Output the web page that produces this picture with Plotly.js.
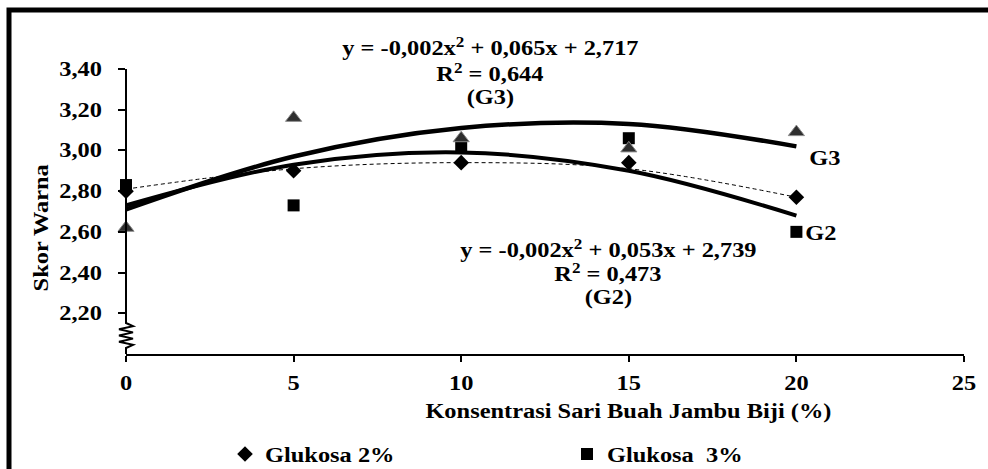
<!DOCTYPE html>
<html>
<head>
<meta charset="utf-8">
<script src="https://cdn.plot.ly/plotly-3.0.1.min.js"></script>
<style>
  html, body { margin: 0; padding: 0; background: #fff; }
  #chart { width: 988px; height: 469px; }
</style>
</head>
<body>
<div id="chart"></div>
<script>
// ---------- data ----------
const xValues   = [0, 5, 10, 15, 20];
const glukosa2  = [2.80, 2.90, 2.94, 2.94, 2.77];   // diamonds
const glukosa3  = [2.83, 2.73, 3.02, 3.06, 2.60];   // squares
const glukosa4  = [2.62, 3.16, 3.06, 3.01, 3.09];   // triangles
// trend lines at the same x positions
const trendDiamond = [2.81, 2.91, 2.94, 2.91, 2.77]; // thin dashed
const trendG2      = [2.73, 2.93, 2.99, 2.90, 2.68]; // thick, labelled G2
const trendG3      = [2.71, 2.97, 3.11, 3.13, 3.02]; // thick, labelled G3

const xTickVals = [0, 5, 10, 15, 20, 25];
const xTickText = ['0', '5', '10', '15', '20', '25'];
const yTickVals = [2.2, 2.4, 2.6, 2.8, 3.0, 3.2, 3.4];
const yTickText = ['2,20', '2,40', '2,60', '2,80', '3,00', '3,20', '3,40'];

const seriesNames = ['Glukosa 2%', 'Glukosa\u00a0 3%', 'Glukosa 4%'];
const eqG3 = ['y = -0,002x<sup>2</sup> + 0,065x + 2,717', 'R<sup>2</sup> = 0,644', '(G3)'];
const eqG2 = ['y = -0,002x<sup>2</sup> + 0,053x + 2,739', 'R<sup>2</sup> = 0,473', '(G2)'];
const xTitle = 'Konsentrasi Sari Buah Jambu Biji (%)';
const yTitle = 'Skor Warna';

// ---------- layout helpers (pixel -> paper) ----------
const W = 988, H = 469;
const M = { l: 126, r: 24, t: 69, b: 115, autoexpand: false };
const PW = W - M.l - M.r, PH = H - M.t - M.b;
const px = v => (v - M.l) / PW;
const py = v => (H - M.b - v) / PH;

const FONT = 'Liberation Serif, Times New Roman, serif';
const f = (size) => ({ family: FONT, size: size, color: '#000', weight: 700 });

const traces = [
  { x: xValues, y: trendDiamond, mode: 'lines', line: { color: '#000', width: 1, dash: '4px,3px', shape: 'spline' }, showlegend: false, hoverinfo: 'skip' },
  { x: xValues, y: trendG2, mode: 'lines', line: { color: '#000', width: 4, shape: 'spline' }, showlegend: false, hoverinfo: 'skip' },
  { x: xValues, y: trendG3, mode: 'lines', line: { color: '#000', width: 4.5, shape: 'spline' }, showlegend: false, hoverinfo: 'skip' },
  { x: xValues, y: glukosa2, name: seriesNames[0], mode: 'markers', cliponaxis: false, marker: { symbol: 'diamond', size: 12, color: '#000' } },
  { x: xValues, y: glukosa3, name: seriesNames[1], mode: 'markers', cliponaxis: false, marker: { symbol: 'square', size: 12, color: '#000' } },
  { x: xValues, y: glukosa4, name: seriesNames[2], mode: 'markers', cliponaxis: false, showlegend: false,
    marker: { symbol: 'triangle-up', size: 14, color: '#2e2e2e', line: { color: '#8a8a8a', width: 1 } } }
];

function ann(text, x, y, xanchor, size, extra) {
  return Object.assign({ text: text, x: px(x), y: py(y), xref: 'paper', yref: 'paper',
    xanchor: xanchor, yanchor: 'middle', showarrow: false, font: f(size) }, extra || {});
}

const annotations = [
  ann(eqG3[0], 490, 47, 'center', 20),
  ann(eqG3[1], 490, 73, 'center', 20),
  ann(eqG3[2], 490, 97, 'center', 20),
  ann(eqG2[0], 608, 249, 'center', 20),
  ann(eqG2[1], 608, 273, 'center', 20),
  ann(eqG2[2], 608, 297, 'center', 20),
  ann('G3', 810, 158, 'left', 20),
  ann('G2', 806, 233, 'left', 20),
  ann(xTitle, 628, 411, 'center', 20),
  ann(yTitle, 41, 228, 'center', 20, { textangle: -90 })
];

// y axis line with the break zig-zag near the bottom
const yb = v => 3.4 - (v - M.t) / (PH / 1.4);
const zz = 7 / PW;
const zTop = yb(323), zBot = yb(348), step = (zTop - zBot) / 8;
let zig = `M 0,3.4 L 0,${zTop}`;
for (let i = 1; i < 8; i++) zig += ` L ${(i % 2 ? zz : -zz)},${zTop - i * step}`;
zig += ` L 0,${zBot} L 0,2.0`;

const shapes = [
  { type: 'path', xref: 'paper', yref: 'y', path: zig, line: { color: '#000', width: 2 } },
  // outer frame (only left and top edges fall inside the picture)
  { type: 'rect', xref: 'paper', yref: 'paper', x0: px(9), x1: px(1010), y0: py(500), y1: py(10),
    line: { color: '#000', width: 5 }, fillcolor: 'rgba(0,0,0,0)' }
];

const layout = {
  width: W, height: H,
  margin: M,
  paper_bgcolor: '#fff', plot_bgcolor: '#fff',
  showlegend: true,
  legend: { orientation: 'h', x: px(225), y: py(454), xanchor: 'left', yanchor: 'middle',
    font: f(20), entrywidth: 297, entrywidthmode: 'pixels', bgcolor: 'rgba(0,0,0,0)' },
  xaxis: { range: [0, 25], tickvals: xTickVals, ticktext: xTickText, showgrid: false, zeroline: false,
    showline: true, linecolor: '#000', linewidth: 2, ticks: 'outside', ticklen: 6, tickwidth: 2, tickcolor: '#000',
    tickfont: f(20), ticklabelstandoff: 4, fixedrange: true, automargin: false },
  yaxis: { range: [2.0, 3.4], tickvals: yTickVals, ticktext: yTickText, showgrid: false, zeroline: false,
    showline: false, ticks: 'outside', ticklen: 7, tickwidth: 2, tickcolor: '#000',
    tickfont: f(20), ticklabelstandoff: 12, fixedrange: true, automargin: false },
  annotations: annotations,
  shapes: shapes,
  hovermode: false
};

const STRETCH = 1.22;
function stretchTexts(gd) {
  gd.querySelectorAll('.main-svg text').forEach(el => {
    if (el.getAttribute('data-stretched')) return;
    const own = el.getAttribute('transform') || '';
    const parent = el.parentNode && el.parentNode.getAttribute ? (el.parentNode.getAttribute('transform') || '') : '';
    if (/rotate\(\s*-?90/.test(own) || /rotate\(\s*-?90/.test(parent)) return;
    const len = el.getComputedTextLength();
    if (len > 0) {
      el.setAttribute('textLength', (len * STRETCH).toFixed(1));
      el.setAttribute('lengthAdjust', 'spacingAndGlyphs');
      el.setAttribute('data-stretched', '1');
    }
  });
}

Plotly.newPlot('chart', traces, layout, { displayModeBar: false, staticPlot: true }).then(gd => {
  stretchTexts(gd);
  gd.on('plotly_afterplot', () => stretchTexts(gd));
  setTimeout(() => stretchTexts(gd), 50);
});
</script>
</body>
</html>
